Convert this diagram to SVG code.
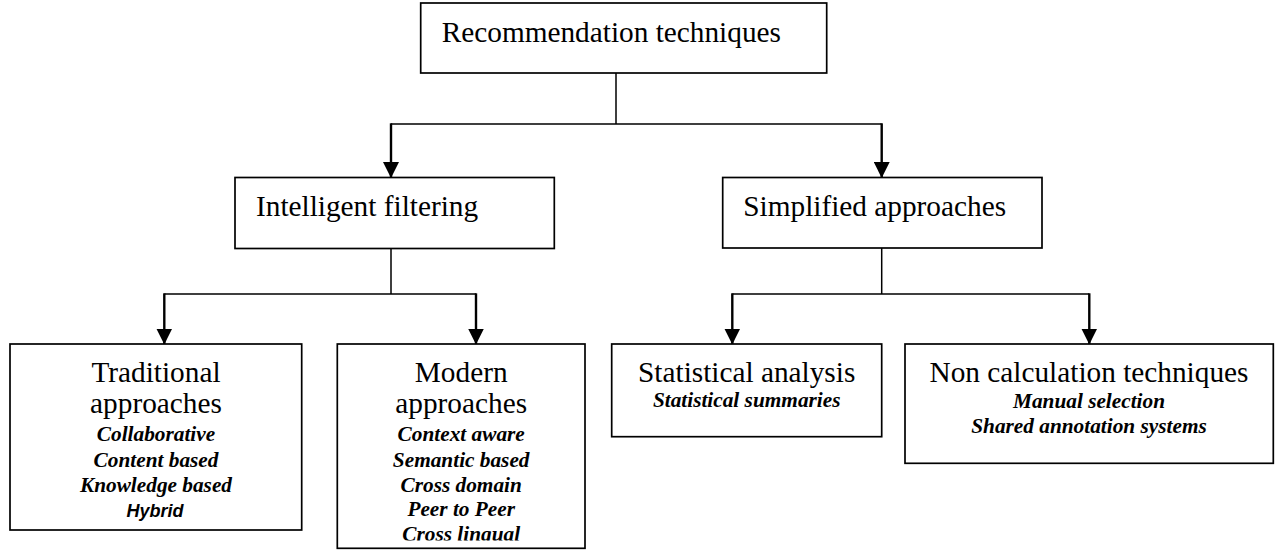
<svg xmlns="http://www.w3.org/2000/svg" width="1282" height="550" viewBox="0 0 1282 550">
<style>
.box{fill:#fff;stroke:#000;stroke-width:1.7}
.t{font-family:"Liberation Serif","Times New Roman",serif;font-size:29.3px;fill:#000}
.s{font-family:"Liberation Serif","Times New Roman",serif;font-size:21.3px;font-weight:bold;font-style:italic;fill:#000}
.h{font-family:"Liberation Sans",Arial,sans-serif;font-size:18px;font-weight:bold;font-style:italic;fill:#000}
.c{text-anchor:middle}
.ln{fill:none;stroke:#000;stroke-width:1.5}
.ar{fill:none;stroke:#000;stroke-width:2.4;marker-end:url(#ah)}
</style>
<defs>
<marker id="ah" markerUnits="userSpaceOnUse" markerWidth="16" markerHeight="16" refX="15.5" refY="8" orient="auto">
<path d="M0,0 L16,8 L0,16 z" fill="#000"/>
</marker>
<clipPath id="mclip"><rect x="337" y="344" width="248" height="196.5"/></clipPath>
</defs>
<g id="connectors">
<path class="ln" d="M616,73 V124 M391,124 H881.7"/>
<path class="ar" d="M391,123.3 V177.5"/>
<path class="ar" d="M881.7,123.3 V177.5"/>
<path class="ln" d="M391,248.5 V294 M164.3,294 H476"/>
<path class="ar" d="M164.3,293.3 V344"/>
<path class="ar" d="M476,293.3 V344"/>
<path class="ln" d="M881.7,248 V294 M732.3,294 H1089.3"/>
<path class="ar" d="M732.3,293.3 V344"/>
<path class="ar" d="M1089.3,293.3 V344"/>
</g>
<g id="node-root">
<rect class="box" x="420.7" y="3" width="406" height="70"/>
<text class="t" x="441.7" y="42">Recommendation techniques</text>
</g>
<g id="node-intelligent">
<rect class="box" x="235" y="177.5" width="319.3" height="71"/>
<text class="t" x="256" y="215.7">Intelligent filtering</text>
</g>
<g id="node-simplified">
<rect class="box" x="722.7" y="177.5" width="319.3" height="70.5"/>
<text class="t" x="743.3" y="215.7">Simplified approaches</text>
</g>
<g id="node-traditional">
<rect class="box" x="10" y="344" width="291.7" height="186"/>
<text class="t c" x="156" y="382.3">Traditional</text>
<text class="t c" x="156" y="412.5">approaches</text>
<text class="s c" x="156" y="441">Collaborative</text>
<text class="s c" x="156" y="466.5">Content based</text>
<text class="s c" x="156" y="491.5">Knowledge based</text>
<text class="h c" x="155" y="516.5">Hybrid</text>
</g>
<g id="node-modern">
<rect class="box" x="337.3" y="344" width="247.7" height="204.3"/>
<g clip-path="url(#mclip)">
<text class="t c" x="461.2" y="382.3">Modern</text>
<text class="t c" x="461.2" y="412.5">approaches</text>
<text class="s c" x="461.2" y="440.5">Context aware</text>
<text class="s c" x="461.2" y="466.5">Semantic based</text>
<text class="s c" x="461.2" y="491.5">Cross domain</text>
<text class="s c" x="461.2" y="516">Peer to Peer</text>
<text class="s c" x="461.2" y="541">Cross lingual</text>
</g>
</g>
<g id="node-statistical">
<rect class="box" x="611.7" y="344" width="270" height="92.7"/>
<text class="t c" x="746.7" y="382.3">Statistical analysis</text>
<text class="s c" x="746.7" y="407.3">Statistical summaries</text>
</g>
<g id="node-noncalc">
<rect class="box" x="905" y="344" width="368.3" height="119.3"/>
<text class="t c" x="1089" y="382.3">Non calculation techniques</text>
<text class="s c" x="1089" y="408.3">Manual selection</text>
<text class="s c" x="1089" y="433.3">Shared annotation systems</text>
</g>
</svg>
